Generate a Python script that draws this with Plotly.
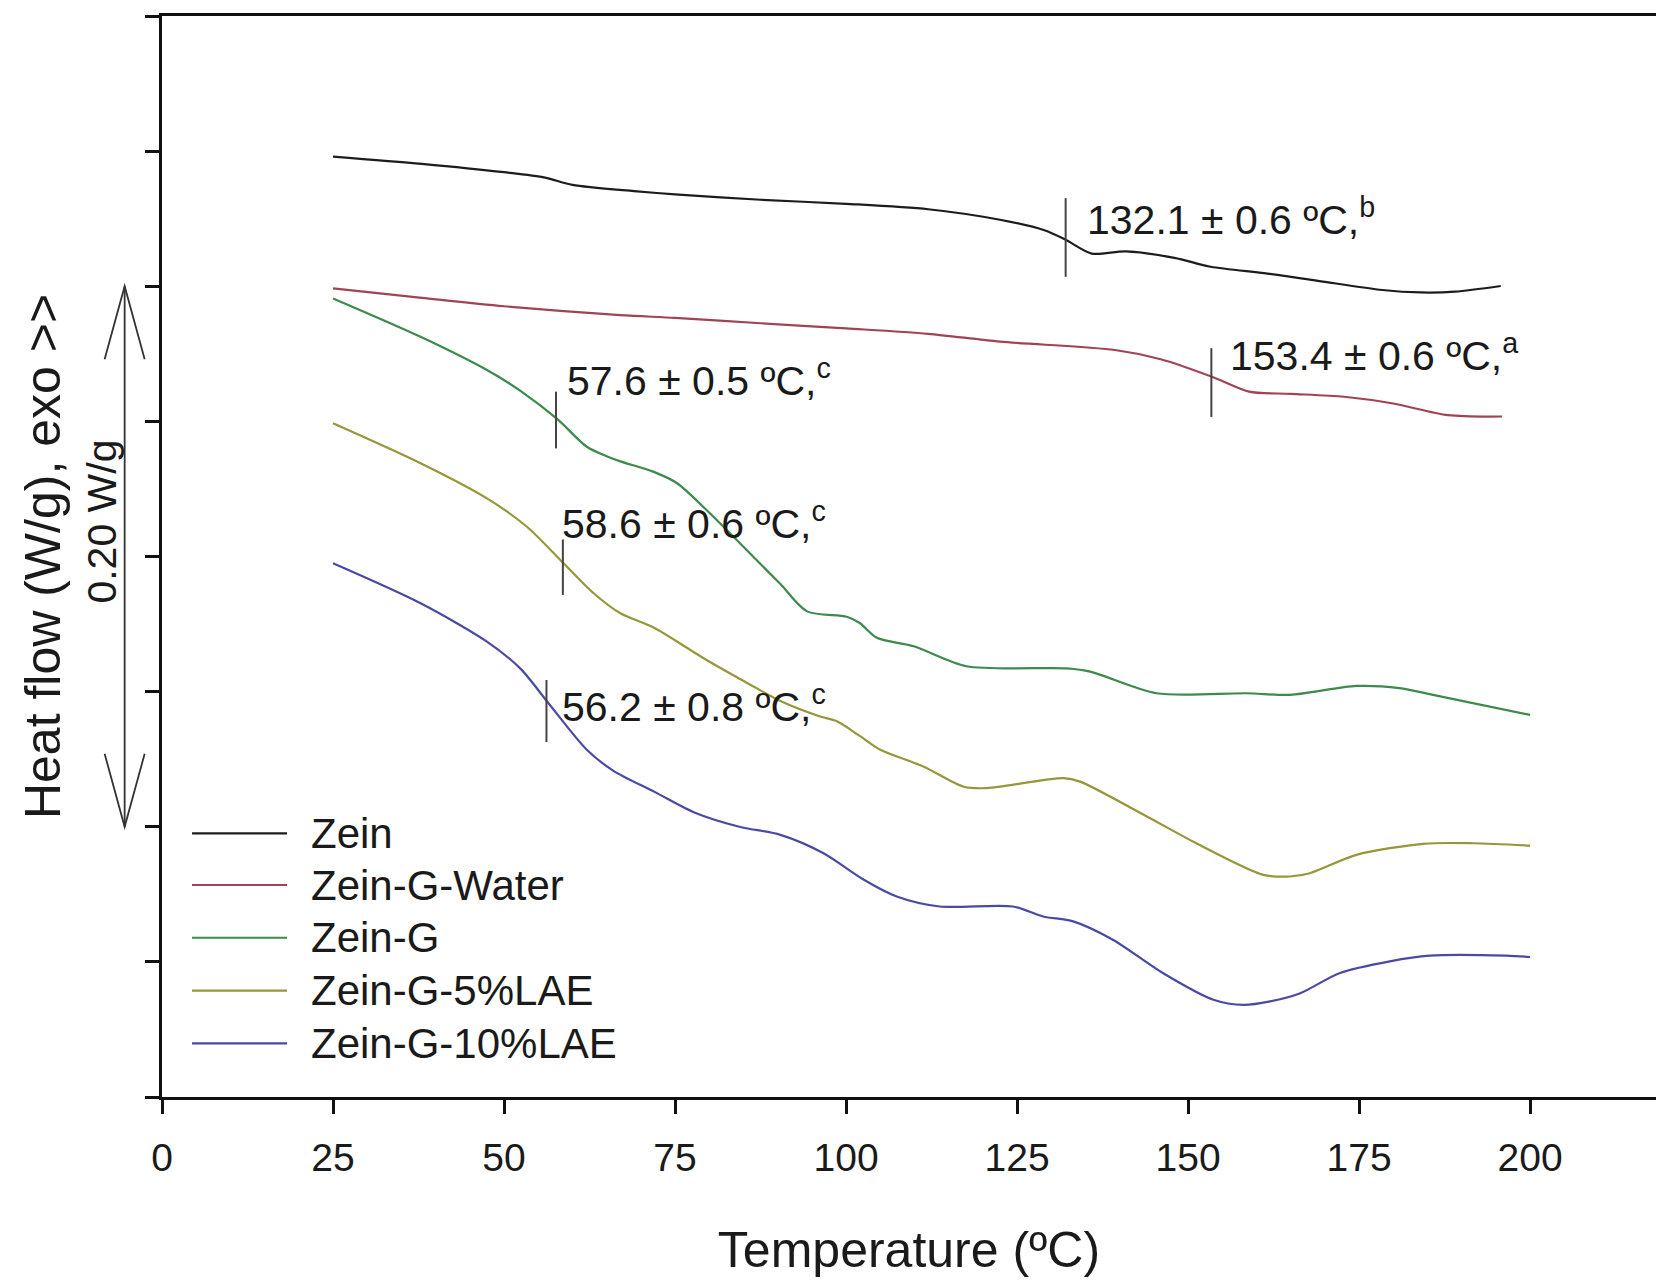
import plotly.graph_objects as go

# ---------------- data ----------------
series_names = ["Zein", "Zein-G-Water", "Zein-G", "Zein-G-5%LAE", "Zein-G-10%LAE"]
series_colors = ["#1c1c1c", "#a04454", "#3c8a4c", "#96963a", "#4a4aa4"]

zein_T = [25, 38, 50, 56, 60, 69, 75, 87.5, 100, 112, 122.5, 129, 132.1, 135.9, 140.9,
          148, 153.3, 161.6, 169, 178.4, 184, 189, 195.7]
zein_hf = [0.3480, 0.3453, 0.3422, 0.3402, 0.3375, 0.3352, 0.3340, 0.3320, 0.3305, 0.3285,
           0.3246, 0.3207, 0.3172, 0.3121, 0.3129, 0.3105, 0.3072, 0.3047, 0.3020, 0.2986,
           0.2977, 0.2980, 0.3001]

water_T = [25, 38, 50, 67, 75, 87.5, 100, 112, 122.5, 139.3, 146, 153.5, 158.9, 165,
           172.8, 180, 188, 195.9]
water_hf = [0.2992, 0.2957, 0.2926, 0.2893, 0.2883, 0.2863, 0.2844, 0.2824, 0.2795, 0.2764,
            0.2730, 0.2665, 0.2610, 0.2602, 0.2591, 0.2566, 0.2523, 0.2518]

g_T = [25, 37.8, 47.5, 52.4, 57.8, 62.1, 65, 67, 71.8, 75.3, 79.6, 86.4, 90.4, 94.3,
       100.1, 102, 104.5, 109.9, 117.6, 132.3, 135.7, 145.4, 158.5, 164.9, 174.6, 180.9,
       185.8, 200]
g_hf = [0.2955, 0.2813, 0.2690, 0.2613, 0.2508, 0.2406, 0.2371, 0.2352, 0.2314, 0.2271,
        0.2172, 0.2000, 0.1898, 0.1797, 0.1777, 0.1754, 0.1699, 0.1668, 0.1594, 0.1586,
        0.1574, 0.1494, 0.1494, 0.1488, 0.1521, 0.1513, 0.1488, 0.1414]

lae5_T = [25, 37.8, 47.5, 53.3, 58.7, 63.1, 67, 71.8, 79.6, 86.4, 90.4, 96.2, 98.6, 102,
          105, 111.3, 117.2, 120.6, 131.8, 134.2, 143.9, 151.2, 161, 164.9, 167.8, 174.6,
          184.4, 191.7, 200]
lae5_hf = [0.2493, 0.2345, 0.2215, 0.2111, 0.1975, 0.1864, 0.1790, 0.1738, 0.1617, 0.1520,
           0.1465, 0.1408, 0.1391, 0.1336, 0.1285, 0.1223, 0.1148, 0.1143, 0.1180, 0.1167,
           0.1039, 0.0939, 0.0822, 0.0816, 0.0828, 0.0896, 0.0937, 0.0939, 0.0930]

lae10_T = [25, 37.8, 47.5, 52.4, 56.5, 62.1, 66, 72, 78, 84.4, 90.4, 96.7, 102.6, 107.4,
           113.7, 124.4, 128.8, 133.2, 139, 146.3, 153.7, 158.1, 162, 166.3, 172.2, 179.5,
           185.3, 196.5, 200]
lae10_hf = [0.1975, 0.1827, 0.1685, 0.1585, 0.1457, 0.1285, 0.1207, 0.1129, 0.1051, 0.1000,
            0.0970, 0.0902, 0.0804, 0.0742, 0.0705, 0.0705, 0.0668, 0.0650, 0.0582, 0.0459,
            0.0360, 0.0341, 0.0354, 0.0383, 0.0459, 0.0502, 0.0523, 0.0523, 0.0518]

# glass transition markers: temperature, marker top/bottom (W/g), label
tg_values = [132.1, 153.4, 57.6, 58.6, 56.2]
tg_top = [0.3326, 0.2771, 0.2610, 0.2063, 0.1543]
tg_bottom = [0.3035, 0.2516, 0.2400, 0.1858, 0.1313]
tg_labels = ["132.1 ± 0.6 ºC,<sup>b</sup>", "153.4 ± 0.6 ºC,<sup>a</sup>",
             "57.6 ± 0.5 ºC,<sup>c</sup>", "58.6 ± 0.6 ºC,<sup>c</sup>",
             "56.2 ± 0.8 ºC,<sup>c</sup>"]
tg_label_T = [134.9, 155.9, 58.9, 58.2, 58.2]
tg_label_hf = [0.3258, 0.2754, 0.2660, 0.2133, 0.1453]

x_ticks = [0, 25, 50, 75, 100, 125, 150, 175, 200]
y_ticks = [0, 0.05, 0.10, 0.15, 0.20, 0.25, 0.30, 0.35, 0.40]
scale_bar = (0.10, 0.30)  # 0.20 W/g

FONT = "Liberation Sans, Arial, sans-serif"
INK = "#1a1a1a"

all_T = [zein_T, water_T, g_T, lae5_T, lae10_T]
all_hf = [zein_hf, water_hf, g_hf, lae5_hf, lae10_hf]

fig = go.Figure()
for name, color, T, hf in zip(series_names, series_colors, all_T, all_hf):
    fig.add_trace(go.Scatter(x=T, y=hf, mode="lines", name=name, showlegend=False,
                             line=dict(color=color, width=2.2, shape="spline", smoothing=0.8)))

shapes = []
annotations = []

# Tg marker ticks and labels
for t, top, bot, lab, lx, ly in zip(tg_values, tg_top, tg_bottom, tg_labels, tg_label_T, tg_label_hf):
    shapes.append(dict(type="line", xref="x", yref="y", x0=t, x1=t, y0=bot, y1=top,
                       line=dict(color="#444444", width=2)))
    annotations.append(dict(x=lx, y=ly, xref="x", yref="y", text=lab, showarrow=False,
                            xanchor="left", yanchor="middle",
                            font=dict(family=FONT, size=41, color=INK)))

# scale bar (double arrow) left of the y axis
bx = -0.0250
hw = 0.0134
hl = 0.027
lo, hi = scale_bar
shapes.append(dict(type="line", xref="paper", yref="y", x0=bx, x1=bx, y0=lo, y1=hi,
                   line=dict(color="#333333", width=1.8)))
shapes.append(dict(type="path", xref="paper", yref="y",
                   path=f"M{bx-hw},{hi-hl} L{bx},{hi} L{bx+hw},{hi-hl}",
                   line=dict(color="#333333", width=1.8)))
shapes.append(dict(type="path", xref="paper", yref="y",
                   path=f"M{bx-hw},{lo+hl} L{bx},{lo} L{bx+hw},{lo+hl}",
                   line=dict(color="#333333", width=1.8)))
annotations.append(dict(x=-0.0400, y=(lo + hi) / 2 + 0.013, xref="paper", yref="y",
                        text=f"{hi - lo:.2f} W/g", textangle=-90, showarrow=False,
                        xanchor="center", yanchor="middle",
                        font=dict(family=FONT, size=41, color=INK)))

# legend drawn as line samples + labels
legend_rows = [0.2439, 0.1961, 0.1473, 0.0984, 0.0496]
for name, color, ry in zip(series_names, series_colors, legend_rows):
    shapes.append(dict(type="line", xref="paper", yref="paper", x0=0.0201, x1=0.0837,
                       y0=ry, y1=ry, line=dict(color=color, width=2.2)))
    annotations.append(dict(x=0.0984, y=ry, xref="paper", yref="paper", text=name,
                            showarrow=False, xanchor="left", yanchor="middle",
                            font=dict(family=FONT, size=42, color=INK)))

fig.update_layout(
    width=1656, height=1280,
    margin=dict(l=162, r=0, t=16, b=183),
    paper_bgcolor="white", plot_bgcolor="white",
    font=dict(family=FONT, color=INK),
    shapes=shapes, annotations=annotations,
    showlegend=False,
)
fig.update_xaxes(
    range=[0, 218.4], tickvals=x_ticks, ticktext=[str(v) for v in x_ticks],
    showgrid=False, zeroline=False, showline=True, linecolor="#111111", linewidth=2.5,
    mirror=True, ticks="outside", ticklen=14, tickwidth=2.5, tickcolor="#111111",
    tickfont=dict(family=FONT, size=39, color=INK), ticklabelstandoff=10,
    title=dict(text="Temperature (ºC)", font=dict(family=FONT, size=50, color=INK), standoff=55),
    automargin=False,
)
fig.update_yaxes(
    range=[0, 0.40], tickvals=y_ticks, showticklabels=False,
    showgrid=False, zeroline=False, showline=True, linecolor="#111111", linewidth=2.5,
    ticks="outside", ticklen=14, tickwidth=2.5, tickcolor="#111111",
    title=dict(text="Heat flow (W/g), exo >>", font=dict(family=FONT, size=50, color=INK), standoff=69),
    automargin=False,
)

fig.write_html("out.html")
